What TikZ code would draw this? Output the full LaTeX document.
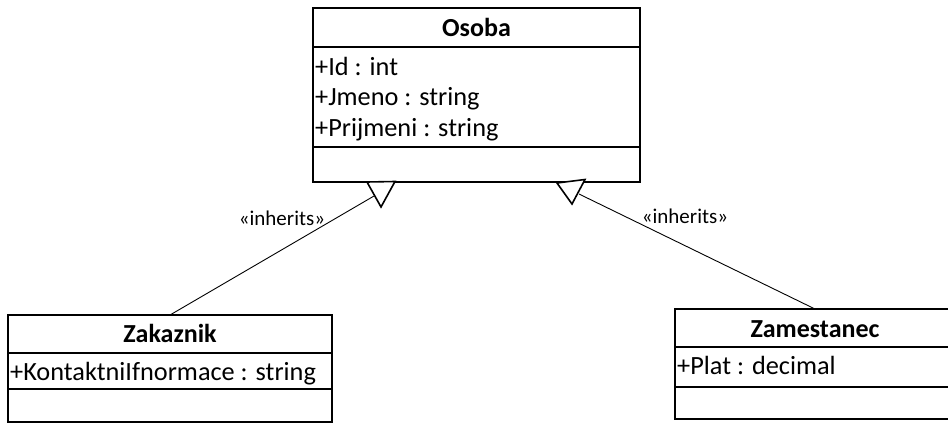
\documentclass[tikz,border=0pt]{standalone}
\usepackage{fontspec}
\setmainfont{Carlito}
\begin{document}
\begin{tikzpicture}[x=1pt,y=-1pt]
\tikzset{
  classbox/.style={draw, line width=1.6pt, rectangle, inner sep=0pt, outer sep=0pt, anchor=north west},
  ctitle/.style={font=\fontsize{26}{26}\selectfont\bfseries, anchor=base, inner sep=0pt},
  cattr/.style={font=\fontsize{26.3}{26}\selectfont, anchor=base west, inner sep=0pt},
  stereo/.style={font=\fontsize{21}{21}\selectfont, anchor=base, inner sep=0pt},
  sepline/.style={line width=1.6pt},
  conn/.style={line width=0.9pt},
  gentri/.style={line width=1.6pt, fill=white, line join=miter}
}
\useasboundingbox (0,0) rectangle (948,423);
% Osoba
\node[classbox, minimum width=327pt, minimum height=174pt] (osoba) at (313,8) {};
\draw[sepline] (313,47) -- (640,47);
\draw[sepline] (313,147) -- (640,147);
\node[ctitle] (osobaT) at (476.5,36) {Osoba};
\node[cattr] (osobaA1) at (315,75) {+Id : int};
\node[cattr] (osobaA2) at (315,105) {+Jmeno : string};
\node[cattr] (osobaA3) at (315,136) {+Prijmeni : string};
% Zakaznik
\node[classbox, minimum width=324pt, minimum height=107pt] (zakaznik) at (8,315) {};
\draw[sepline] (8,353) -- (332,353);
\draw[sepline] (8,389) -- (332,389);
\node[ctitle] (zakaznikT) at (170,342) {Zakaznik};
\node[cattr] (zakaznikA1) at (10,380) {+KontaktniIfnormace : string};
% Zamestanec
\node[classbox, minimum width=280pt, minimum height=110pt] (zamestanec) at (675,309) {};
\draw[sepline] (675,347) -- (955,347);
\draw[sepline] (675,387) -- (955,387);
\node[ctitle] (zamestanecT) at (815,337) {Zamestanec};
\node[cattr] (zamestanecA1) at (677,374) {+Plat : decimal};
% connectors
\coordinate (t1a) at (367,182);
\coordinate (t1b) at (395,181.5);
\coordinate (t1c) at (381,207);
\coordinate (t1s) at (374,196);
\coordinate (t2a) at (557,183);
\coordinate (t2b) at (585,179.5);
\coordinate (t2c) at (572,204);
\coordinate (t2s) at (579,194);
\draw[conn] (zakaznik.north) -- (t1s);
\draw[conn] (zamestanec.north) -- (t2s);
\draw[gentri] (t1a) -- (t1b) -- (t1c) -- cycle;
\draw[gentri] (t2a) -- (t2b) -- (t2c) -- cycle;
\node[stereo] (lab1) at (282,225) {«inherits»};
\node[stereo] (lab2) at (685,223) {«inherits»};
\end{tikzpicture}
\end{document}
